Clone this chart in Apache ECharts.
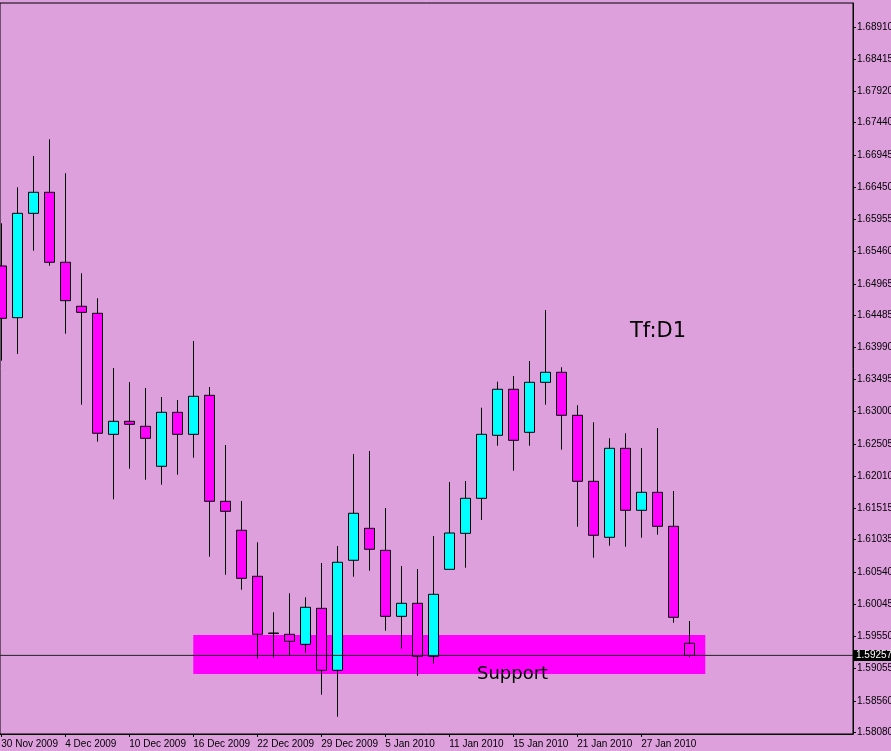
<!DOCTYPE html>
<html>
<head>
<meta charset="utf-8">
<script src="https://cdn.jsdelivr.net/npm/echarts@6/dist/echarts.min.js"></script>
<style>
html,body{margin:0;padding:0;background:#DDA0DD;}
#chart{width:891px;height:751px;}
</style>
</head>
<body>
<div id="chart"></div>
<script>
var dates = ['30 Nov 2009','1 Dec 2009','2 Dec 2009','3 Dec 2009','4 Dec 2009','7 Dec 2009','8 Dec 2009','9 Dec 2009','10 Dec 2009','11 Dec 2009',
  '14 Dec 2009','15 Dec 2009','16 Dec 2009','17 Dec 2009','18 Dec 2009','21 Dec 2009','22 Dec 2009','23 Dec 2009','24 Dec 2009','28 Dec 2009',
  '29 Dec 2009','30 Dec 2009','31 Dec 2009','4 Jan 2010','5 Jan 2010','6 Jan 2010','7 Jan 2010','8 Jan 2010','11 Jan 2010','12 Jan 2010',
  '13 Jan 2010','14 Jan 2010','15 Jan 2010','18 Jan 2010','19 Jan 2010','20 Jan 2010','21 Jan 2010','22 Jan 2010','25 Jan 2010','26 Jan 2010',
  '27 Jan 2010','28 Jan 2010','29 Jan 2010','1 Feb 2010'];

var opens  = [1.65239,1.64445,1.66048,1.66371,1.65296,1.64620,1.64512,1.62653,1.62853,1.62776,
              1.62162,1.62991,1.62653,1.63252,1.61624,1.61179,1.60472,1.59601,1.59581,1.59427,
              1.59980,1.59028,1.60718,1.61209,1.60871,1.59857,1.60057,1.59243,1.60579,1.61132,
              1.61670,1.62638,1.63345,1.62684,1.63452,1.63606,1.62945,1.61931,1.61071,1.62438,
              1.61486,1.61762,1.61240,1.59443];
var closes = [1.64435,1.66048,1.66371,1.65296,1.64706,1.64527,1.62669,1.62853,1.62807,1.62592,
              1.62991,1.62653,1.63237,1.61624,1.61470,1.60441,1.59581,1.59592,1.59473,1.59996,
              1.59028,1.60687,1.61440,1.60887,1.59857,1.60057,1.59243,1.60195,1.61137,1.61670,
              1.62653,1.63345,1.62561,1.63452,1.63606,1.62945,1.61931,1.61102,1.62438,1.61486,
              1.61762,1.61240,1.59842,1.59257];
var lows   = [1.63784,1.63887,1.65474,1.65243,1.64199,1.63108,1.62540,1.61655,1.62125,1.61956,
              1.61879,1.62033,1.62294,1.60773,1.60496,1.60266,1.59206,1.59221,1.59258,1.59298,
              1.58653,1.58315,1.60466,1.60558,1.59636,1.59360,1.58945,1.59132,1.60579,1.60604,
              1.61337,1.62478,1.62094,1.62478,1.63108,1.62417,1.61234,1.60758,1.60942,1.60927,
              1.61065,1.61111,1.59759,1.59228];
var highs  = [1.65895,1.66448,1.66929,1.67185,1.66663,1.65127,1.64743,1.63672,1.63457,1.63365,
              1.63226,1.63180,1.64087,1.63380,1.62489,1.61629,1.60994,1.59919,1.60211,1.60149,
              1.60676,1.60937,1.62351,1.62397,1.61521,1.60630,1.60584,1.61091,1.61921,1.61936,
              1.63062,1.63461,1.63549,1.63779,1.64563,1.63683,1.63099,1.62838,1.62592,1.62669,
              1.62443,1.62750,1.61782,1.59785];

var priceTicks = [1.58080,1.58560,1.59055,1.59550,1.60045,1.60540,1.61035,1.61515,1.62010,1.62505,
                  1.63000,1.63495,1.63990,1.64485,1.64965,1.65460,1.65955,1.66450,1.66945,1.67440,
                  1.67920,1.68415,1.68910];
var dateTickIdx = [0,4,8,12,16,20,24,28,32,36,40];
var bidPrice = 1.59257;
var supportFrom = 12, supportTo = 44, supportTop = 1.5957, supportBottom = 1.5897;

var xMin = -0.08, xMax = 53.23;
var ohlc = dates.map(function(d, i){ return [i, opens[i], closes[i], lows[i], highs[i]]; });

var font = '"Liberation Sans", Arial, sans-serif';
var chart = echarts.init(document.getElementById('chart'));
chart.setOption({
  animation: false,
  backgroundColor: '#DDA0DD',
  grid: {left: 0, right: 38, top: 3, bottom: 17, containLabel: false, outerBoundsMode: 'none',
    show: true, borderColor: '#000', borderWidth: 1, backgroundColor: 'transparent'},
  xAxis: {
    type: 'value', min: xMin, max: xMax,
    axisLine: {show: true, onZero: false, lineStyle: {color: '#000', width: 1}},
    splitLine: {show: false},
    axisTick: {show: true, customValues: dateTickIdx, length: 3, lineStyle: {color: '#000'}},
    axisLabel: {customValues: dateTickIdx, formatter: function(v){ return dates[Math.round(v)]; },
      align: 'left', margin: 5, color: '#000', fontSize: 10, fontFamily: font, showMinLabel: true, showMaxLabel: true}
  },
  yAxis: {
    type: 'value', position: 'right', min: 1.580493, max: 1.692789,
    axisLine: {show: true, onZero: false, lineStyle: {color: '#000', width: 1}},
    splitLine: {show: false},
    axisTick: {show: true, customValues: priceTicks, length: 3, lineStyle: {color: '#000'}},
    axisLabel: {customValues: priceTicks, formatter: function(v){ return v.toFixed(5); },
      margin: 4, color: '#000', fontSize: 10, fontFamily: font, showMinLabel: true, showMaxLabel: true}
  },
  series: [{
    type: 'candlestick',
    data: ohlc,
    encode: {x: 0, y: [1, 2, 3, 4]},
    barWidth: 10,
    itemStyle: {color: '#00FFFF', color0: '#FF00FF', borderColor: '#000', borderColor0: '#000', borderWidth: 1},
    markArea: {
      silent: true,
      itemStyle: {color: '#FF00FF', opacity: 1},
      data: [[{xAxis: supportFrom, yAxis: supportTop}, {xAxis: supportTo, yAxis: supportBottom}]]
    }
  }, {
    type: 'line',
    data: [[xMin, bidPrice], [xMax, bidPrice]],
    z: 10,
    showSymbol: false,
    symbol: 'none',
    silent: true,
    clip: false,
    lineStyle: {color: '#222', width: 1},
    endLabel: {show: true, formatter: bidPrice.toFixed(5), color: '#fff', backgroundColor: '#000',
      padding: [1, 1, 0, 2], fontSize: 10, fontFamily: font, distance: 1}
  }],
  graphic: [
    {type: 'text', z: 100, left: 630, top: 321, style: {text: 'Tf:D1', fontSize: 21, fontFamily: '"DejaVu Sans"', fill: '#000'}},
    {type: 'text', z: 100, left: 477, top: 665, style: {text: 'Support', fontSize: 18, fontFamily: '"DejaVu Sans"', fill: '#000'}}
  ]
});
</script>
</body>
</html>
